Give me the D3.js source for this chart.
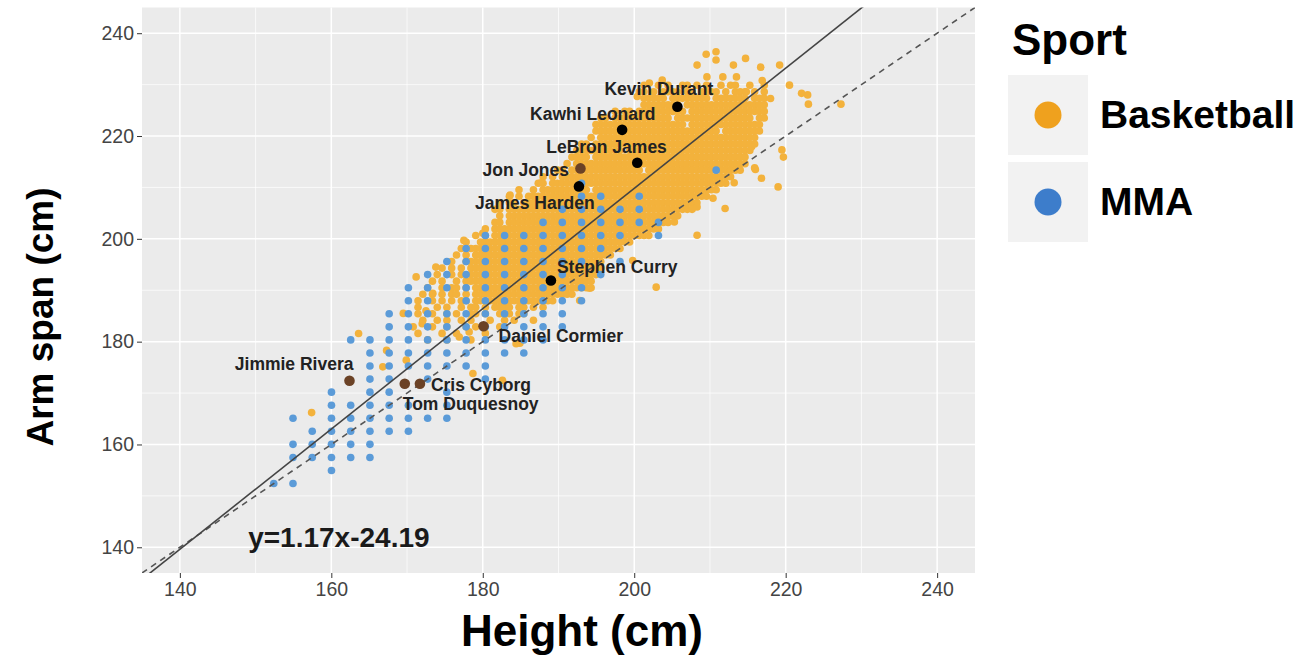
<!doctype html>
<html>
<head>
<meta charset="utf-8"/>
<style>
  body { margin: 0; background: #fff; }
  svg { display: block; }
</style>
</head>
<body>
<script src="https://cdn.jsdelivr.net/npm/d3@7/dist/d3.min.js"></script>
<script>
// ---- data -------------------------------------------------------------
const axisTicks = [140, 160, 180, 200, 220, 240];
const minorTicks = [150, 170, 190, 210, 230];
const sports = ['Basketball', 'MMA'];
const fitSlope = 1.17;
const fitIntercept = -24.19;

// MMA fighters, recorded in whole inches: [height, reaches at that height]
const mmaColumns = [
  [60, [60]],
  [61, [60, 62, 63, 65]],
  [62, [62, 63, 64]],
  [63, [61, 62, 63, 64, 65, 66, 67]],
  [64, [62, 63, 64, 65, 66, 71]],
  [65, [62, 63, 64, 65, 66, 67, 68, 69, 70, 71]],
  [66, [64, 65, 66, 67, 68, 69, 70, 71, 72, 73]],
  [67, [64, 65, 66, 69, 70, 71, 72, 73, 74, 75]],
  [68, [65, 68, 69, 70, 71, 72, 73, 74, 75, 76]],
  [69, [65, 66, 67, 69, 70, 71, 72, 73, 75, 76, 77]],
  [70, [69, 70, 71, 72, 73, 74, 75, 76, 77, 78]],
  [71, [68, 69, 70, 71, 72, 73, 74, 75, 76, 77, 78, 79]],
  [72, [70, 71, 72, 73, 74, 75, 76, 77, 78, 79]],
  [73, [70, 71, 72, 73, 74, 75, 76, 77, 78, 79]],
  [74, [71, 72, 73, 74, 75, 76, 77, 78, 79, 80]],
  [75, [72, 73, 74, 75, 76, 77, 78, 79, 80, 81]],
  [76, [74, 75, 77, 78, 79, 80, 81, 82, 83]],
  [77, [76, 78, 79, 80, 81, 82]],
  [78, [77, 79, 80, 81]],
  [79, [80, 81, 82]],
  [80, [79, 80]],
  [83, [84]]
];

// NBA players, quarter-inch heights: [arm span (in), first height (in), row]
// every '#' in a row is one player, each character one quarter inch taller
const bballRows = [
  [90.5, 79.25, "#..#.#..##.#.#..#.##..#..#"],
  [90,   79.0,  "##.#.####.##.####.#.###.#.#"],
  [89.5, 79.25, "#####.########.#######.###"],
  [89,   79.25, "########.#################"],
  [88.5, 77.75, "#.##.##########.################"],
  [88,   77.0,  "##.############.################.##"],
  [87.5, 76.75, "###################.###############"],
  [87,   76.75, "##########################.########"],
  [86.5, 76.5,  "#.#################################"],
  [86,   76.0,  "##.##################################"],
  [85.5, 75.75, "##########.##########################"],
  [85,   75.5,  "####.################################"],
  [84.5, 75.25, "#.####################################"],
  [84,   74.75, "##.###############.####################"],
  [83.5, 74.0,  "#.#.####################################"],
  [83,   73.75, "##.#####################################"],
  [82.5, 72.75, "#..#.##########.##########################"],
  [82,   72.25, "#.#.######################################"],
  [81.5, 71.75, "#.##.#####################################"],
  [81,   71.5,  "##.#######################################"],
  [80.5, 71.75, "#.####################################"],
  [80,   71.5,  "##.##################################"],
  [79.5, 71.0,  "#.###################################"],
  [79,   70.5,  "#.#.#################################"],
  [78.5, 70.0,  "#..################################"],
  [78,   69.75, "#.################################"],
  [77.5, 69.5,  "#.#.#############################"],
  [77,   69.25, "#..#############################"],
  [76.5, 68.75, "#.#.#.############################"],
  [76,   68.5,  "#..#.#.###########################"],
  [75.5, 68.25, "#.#..#.###########################"],
  [75,   68.0,  "#..#.##.#.#########################"],
  [74.5, 67.75, "#.#.#.##.#.#####################"],
  [74,   67.5,  "#..#.#.#.##.##.#######.######"],
  [73.5, 67.5,  "#...#.#..#.##.#.####.##.#.#"],
  [73,   67.5,  "#..#..#.#..##.#..#.#.##."],
  [72.5, 67.5,  ".#..#.#..#.#...#..#.#...#"],
  [72,   67.25, "#...#..#...#.#....#"],
  [71.5, 67.0,  "..#....#..#.....#"],
  [71,   68.0,  "#...#....#"]
];

// NBA players away from the main cloud: [height cm, arm span cm]
const bballOutliers = [
  [209.5, 235.9], [210.8, 236.4], [210.8, 234.8], [214.7, 235.1], [208.3, 233.8],
  [213.1, 233.8], [216.7, 233.4], [219.2, 233.8], [209.6, 231.5], [211.7, 231.5],
  [213.5, 231.5], [216.9, 230.8], [220.5, 229.9], [222.1, 228.3], [222.9, 228.0],
  [223.0, 226.2], [227.3, 226.2], [218.0, 227.3], [214.8, 228.6], [202.0, 230.3],
  [203.7, 230.9], [200.4, 227.7], [219.5, 217.3], [219.7, 215.9], [215.9, 213.8],
  [216.8, 211.8], [215.5, 217.9], [219.0, 210.1], [216.0, 213.5], [212.0, 205.9],
  [210.4, 207.9], [208.3, 200.7], [205.3, 203.3], [202.9, 190.6], [213.2, 210.9],
  [208.3, 206.2], [199.8, 195.8], [192.8, 188.0], [194.1, 190.4], [163.6, 181.6],
  [157.4, 166.2], [167.3, 178.3], [166.8, 175.1], [169.9, 176.4], [178.7, 173.8],
  [182.6, 172.5], [184.9, 179.7], [172.5, 186.0], [169.5, 185.5], [172.0, 183.5],
  [176.9, 180.9], [178.2, 181.9], [184.4, 179.6], [177.5, 199.7], [173.8, 194.5],
  [171.2, 192.6], [173.4, 189.4], [180.0, 201.1], [183.6, 208.5], [187.7, 210.9]
];

const athleteNames = ['Kevin Durant', 'Kawhi Leonard', 'LeBron James', 'Jon Jones', 'James Harden',
  'Stephen Curry', 'Daniel Cormier', 'Jimmie Rivera', 'Cris Cyborg', 'Tom Duquesnoy'];
const athleteSport = ['Basketball', 'Basketball', 'Basketball', 'MMA', 'Basketball',
  'Basketball', 'MMA', 'MMA', 'MMA', 'MMA'];
const athleteHeight = [205.7, 198.4, 200.4, 192.9, 192.7, 189.0, 180.1, 162.4, 171.7, 169.7];
const athleteSpan = [225.7, 221.2, 214.8, 213.7, 210.2, 191.9, 183.0, 172.4, 171.8, 171.8];

// ---- layout -----------------------------------------------------------
const W = 1304, H = 660;
const panel = { left: 142, right: 975, top: 7.5, bottom: 573 };
const font = "'Liberation Sans', Arial, Helvetica, sans-serif";
const pointColor = { Basketball: '#F3B23C', MMA: '#5B9BD8' };
const keyColor = { Basketball: '#EFA11E', MMA: '#3D7DCB' };
const markColor = { Basketball: '#000000', MMA: '#6B4226' };
// hand placed labels, px from the point: [dx, dy, anchor]
const labelNudge = [[-73, -12, 'start'], [-92, -10, 'start'], [-91, -10, 'start'], [-98, 8, 'start'],
  [-104, 23, 'start'], [6, -7, 'start'], [15, 16, 'start'], [4, -11, 'end'], [11, 7, 'start'], [-2, 26, 'start']];

const inch = 2.54;
const mma = mmaColumns.flatMap(([h, reaches]) => reaches.map(r => ({ h: h * inch, s: r * inch })));
const bball = bballRows.flatMap(([s, h0, row]) =>
    Array.from(row).map((c, i) => c === '#' ? { h: (h0 + i / 4) * inch, s: s * inch } : null)
  ).filter(d => d)
  .concat(bballOutliers.map(([h, s]) => ({ h, s })));
const athletes = athleteNames.map((name, i) => ({
  name, sport: athleteSport[i], h: athleteHeight[i], s: athleteSpan[i], nudge: labelNudge[i]
}));

const x = d3.scaleLinear().domain([135, 245]).range([panel.left, panel.right]);
const y = d3.scaleLinear().domain([135, 245]).range([panel.bottom, panel.top]);

const svg = d3.select('body').append('svg')
  .attr('width', W).attr('height', H)
  .style('font-family', font);

svg.append('defs').append('clipPath').attr('id', 'panel-clip')
  .append('rect')
  .attr('x', panel.left).attr('y', panel.top)
  .attr('width', panel.right - panel.left).attr('height', panel.bottom - panel.top);

svg.append('rect')
  .attr('x', panel.left).attr('y', panel.top)
  .attr('width', panel.right - panel.left).attr('height', panel.bottom - panel.top)
  .attr('fill', '#EBEBEB');

// grid
const grid = svg.append('g');
[[minorTicks, 0.7], [axisTicks, 1.5]].forEach(([vals, w]) => {
  grid.selectAll(null).data(vals).join('line')
    .attr('x1', d => x(d)).attr('x2', d => x(d))
    .attr('y1', panel.top).attr('y2', panel.bottom)
    .attr('stroke', '#fff').attr('stroke-width', w);
  grid.selectAll(null).data(vals).join('line')
    .attr('y1', d => y(d)).attr('y2', d => y(d))
    .attr('x1', panel.left).attr('x2', panel.right)
    .attr('stroke', '#fff').attr('stroke-width', w);
});

const plot = svg.append('g').attr('clip-path', 'url(#panel-clip)');

plot.append('g').selectAll('circle').data(bball).join('circle')
  .attr('cx', d => x(d.h)).attr('cy', d => y(d.s)).attr('r', 3.8)
  .attr('fill', pointColor.Basketball);

plot.append('g').selectAll('circle').data(mma).join('circle')
  .attr('cx', d => x(d.h)).attr('cy', d => y(d.s)).attr('r', 3.8)
  .attr('fill', pointColor.MMA);

// identity line and fitted line
plot.append('line')
  .attr('x1', x(135)).attr('y1', y(135)).attr('x2', x(245)).attr('y2', y(245))
  .attr('stroke', '#555').attr('stroke-width', 1.6).attr('stroke-dasharray', '6,5');
plot.append('line')
  .attr('x1', x(135)).attr('y1', y(fitSlope * 135 + fitIntercept))
  .attr('x2', x(245)).attr('y2', y(fitSlope * 245 + fitIntercept))
  .attr('stroke', '#444').attr('stroke-width', 1.6);

plot.append('g').selectAll('circle').data(athletes).join('circle')
  .attr('cx', d => x(d.h)).attr('cy', d => y(d.s)).attr('r', 5.3)
  .attr('fill', d => markColor[d.sport]);

svg.append('g').selectAll('text').data(athletes).join('text')
  .attr('x', d => x(d.h) + d.nudge[0]).attr('y', d => y(d.s) + d.nudge[1])
  .attr('text-anchor', d => d.nudge[2])
  .attr('font-size', 17.5).attr('font-weight', 'bold').attr('fill', '#222')
  .text(d => d.name);

svg.append('text')
  .attr('x', x(161)).attr('y', y(140))
  .attr('text-anchor', 'middle')
  .attr('font-size', 28).attr('font-weight', 'bold').attr('fill', '#1a1a1a')
  .text(`y=${fitSlope}x${fitIntercept}`);

// axes
const xAxis = svg.append('g')
  .attr('transform', `translate(0,${panel.bottom})`)
  .call(d3.axisBottom(x).tickValues(axisTicks).tickSize(5).tickPadding(4));
const yAxis = svg.append('g')
  .attr('transform', `translate(${panel.left},0)`)
  .call(d3.axisLeft(y).tickValues(axisTicks).tickSize(5).tickPadding(3));
[xAxis, yAxis].forEach(a => {
  a.select('.domain').remove();
  a.attr('font-family', font).attr('font-size', 19.5);
  a.selectAll('line').attr('stroke', '#333');
  a.selectAll('text').attr('fill', '#444');
});

svg.append('text')
  .attr('x', 582).attr('y', 646)
  .attr('text-anchor', 'middle')
  .attr('font-size', 44).attr('font-weight', 'bold')
  .text('Height (cm)');
svg.append('text')
  .attr('transform', 'translate(53,317) rotate(-90)')
  .attr('text-anchor', 'middle')
  .attr('font-size', 37).attr('font-weight', 'bold')
  .text('Arm span (cm)');

// legend
const legend = svg.append('g');
legend.append('text')
  .attr('x', 1012).attr('y', 55)
  .attr('font-size', 44).attr('font-weight', 'bold')
  .text('Sport');
const key = legend.selectAll('g').data(sports).join('g')
  .attr('transform', (d, i) => `translate(1008,${75 + i * 87})`);
key.append('rect').attr('width', 80).attr('height', 80).attr('fill', '#F2F2F2');
key.append('circle').attr('cx', 40).attr('cy', 40).attr('r', 13.5).attr('fill', d => keyColor[d]);
key.append('text')
  .attr('x', 92).attr('y', 53)
  .attr('font-size', 39).attr('font-weight', 'bold')
  .text(d => d);
</script>
</body>
</html>
